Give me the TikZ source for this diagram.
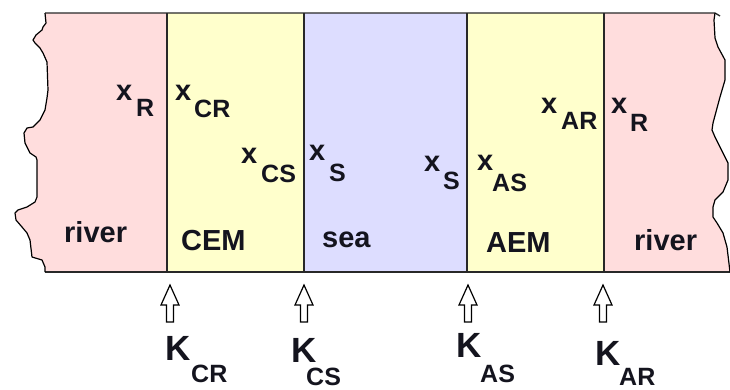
\documentclass[tikz,border=0pt]{standalone}
\usepackage{fontspec}
\setmainfont{Liberation Sans}
\definecolor{riverpink}{RGB}{255,221,221}
\definecolor{memyellow}{RGB}{255,255,204}
\definecolor{sealav}{RGB}{221,221,255}
\definecolor{edgegray}{RGB}{40,40,40}
\definecolor{ink}{RGB}{20,20,30}
\begin{document}
\begin{tikzpicture}[x=1pt,y=-1pt,
  wall/.style={draw=edgegray,line width=1.3pt},
  shore/.style={draw=black,line width=1.2pt,line join=round},
  lbl/.style={anchor=base west,inner sep=0pt,text=ink,font=\bfseries\fontsize{29}{29}\selectfont},
  sublbl/.style={anchor=base west,inner sep=0pt,text=ink,font=\bfseries\fontsize{25}{25}\selectfont},
  klbl/.style={anchor=base west,inner sep=0pt,text=ink,font=\bfseries\fontsize{35}{35}\selectfont},
  flux/.style={draw=black,line width=1.2pt,fill=white,line join=miter}]
\useasboundingbox (0,0) rectangle (730,389);

% ragged shore lines at both ends
\def\leftshore{(45,13) -- (46,23) -- (43,27) -- (42,30) -- (36,35) -- (33,40) -- (35,43) -- (40,48) -- (43,53) -- (47,62) -- (48,90) -- (47,98) -- (45,110) -- (40,120) -- (33,127) -- (27,128) -- (24,133) -- (25,143) -- (30,153) -- (36,157) -- (37,160) -- (37,197) -- (35,202) -- (27,207) -- (18,210) -- (15,213) -- (16,220) -- (22,227) -- (27,233) -- (30,240) -- (32,257) -- (42,260) -- (45,267) -- (45,272)}
\def\rightshore{(730,272) -- (727,247) -- (723,233) -- (717,223) -- (713,217) -- (713,207) -- (715,200) -- (723,192) -- (728,180) -- (728,163) -- (723,153) -- (715,137) -- (712,130) -- (713,123) -- (720,97) -- (725,80) -- (725,60) -- (718,47) -- (715,38) -- (714,20) -- (715,13)}

% compartments
\fill[riverpink] \leftshore -- (167,272) -- (167,13) -- cycle;
\fill[memyellow] (167,13) rectangle (304,272);
\fill[sealav] (304,13) rectangle (467,272);
\fill[memyellow] (467,13) rectangle (604,272);
\fill[riverpink] (604,13) -- (604,272) -- \rightshore -- cycle;

% membrane walls
\coordinate (t1) at (167,13); \coordinate (b1) at (167,272);
\coordinate (t2) at (304,13); \coordinate (b2) at (304,272);
\coordinate (t3) at (467,13); \coordinate (b3) at (467,272);
\coordinate (t4) at (604,13); \coordinate (b4) at (604,272);
\coordinate (tl) at (45,13); \coordinate (tr) at (715,13);
\coordinate (bl) at (45,272); \coordinate (br) at (730,272);
\draw[wall] (t1) -- (b1);
\draw[wall] (t2) -- (b2);
\draw[wall] (t3) -- (b3);
\draw[wall] (t4) -- (b4);
\draw[wall] (tl) -- (tr) -- (720,16);
\draw[wall] (bl) -- (br);
\draw[shore] \leftshore;
\draw[shore] \rightshore;

% concentrations
\node[lbl] (xr1) at (116,100) {x};
\node[sublbl] (xr1s) at (136,116) {R};
\node[lbl] (xcr) at (175,100) {x};
\node[sublbl] (xcrs) at (194,117) {CR};
\node[lbl] (xcs) at (241,163) {x};
\node[sublbl] (xcss) at (261,182) {CS};
\node[lbl] (xs1) at (309,160) {x};
\node[sublbl] (xs1s) at (329,181) {S};
\node[lbl] (xs2) at (424,171) {x};
\node[sublbl] (xs2s) at (443,189) {S};
\node[lbl] (xas) at (477,170) {x};
\node[sublbl] (xass) at (492,191) {AS};
\node[lbl] (xar) at (541,113) {x};
\node[sublbl] (xars) at (561,129) {AR};
\node[lbl] (xr2) at (611,113) {x};
\node[sublbl] (xr2s) at (630,131) {R};

% compartment names
\node[lbl] (riv1) at (64,242) {river};
\node[lbl] (cem) at (181,250) {CEM};
\node[lbl] (sea) at (322,247) {sea};
\node[lbl] (aem) at (486,252) {AEM};
\node[lbl] (riv2) at (634,250) {river};

% flux arrows
\foreach \cx/\nm in {170/a1,304/a2,468/a3,603/a4}{
  \draw[flux] (\cx,285) -- (\cx+9,305) -- (\cx+3.5,305) -- (\cx+3.5,322)
    -- (\cx-3.5,322) -- (\cx-3.5,305) -- (\cx-9,305) -- cycle;
  \coordinate (\nm) at (\cx,322);
}

% transfer coefficients
\node[klbl] (kcr) at (165,360) {K};
\node[sublbl] (kcrs) at (191,382) {CR};
\node[klbl] (kcs) at (291,362) {K};
\node[sublbl] (kcss) at (306,385) {CS};
\node[klbl] (kas) at (456,357) {K};
\node[sublbl] (kass) at (480,382) {AS};
\node[klbl] (kar) at (595,365) {K};
\node[sublbl] (kars) at (619,385) {AR};
\end{tikzpicture}
\end{document}
